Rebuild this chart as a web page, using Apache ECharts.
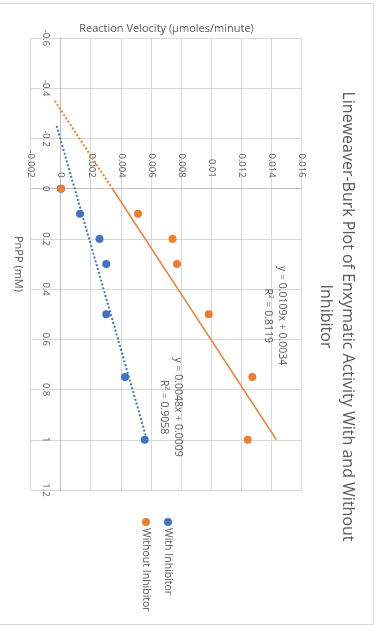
<!DOCTYPE html>
<html>
<head>
<meta charset="utf-8">
<title>Lineweaver-Burk Plot</title>
<script src="https://cdn.jsdelivr.net/npm/echarts@6/dist/echarts.min.js"></script>
<style>
html, body { margin: 0; padding: 0; overflow: hidden; background: #fff; }
/* the reference chart is turned a quarter turn clockwise */
#chart {
  position: absolute;
  left: 0;
  top: 0;
  width: 633px;
  height: 377px;
  transform-origin: 0 0;
  transform: translate(377px, 0) rotate(90deg);
}
</style>
</head>
<body>
<div id="chart"></div>
<script>
// PnPP concentration (mM) and measured reaction velocity
const pnpp = [0, 0.1, 0.2, 0.3, 0.5, 0.75, 1]
const withInhibitor = [0, 0.00125, 0.00255, 0.003, 0.003, 0.00425, 0.00555]
const withoutInhibitor = [0, 0.0051, 0.0074, 0.0077, 0.0098, 0.0127, 0.0124]

// trendline end points as drawn
const withTrendX = [-0.25, 1]
const withTrendY = [-0.0003, 0.0057]
const withoutForecastX = [-0.35, 0]
const withoutForecastY = [-0.00042, 0.0034]
const withoutTrendX = [0, 1]
const withoutTrendY = [0.0034, 0.0143]

const withLabel = 'y = 0.0048x + 0.0009\nR² = 0.9058'
const withoutLabel = 'y = 0.0109x + 0.0034\nR² = 0.8119'

const zip = (xs, ys) => xs.map((x, i) => [x, ys[i]])

const grey = '#595959'
const blue = '#4472C4'
const orange = '#ED7D31'

const grid = { left: 38, right: 143, top: 75, bottom: 31 }

const trendLabel = (text, coord) => ({
  symbol: 'circle',
  symbolSize: 0,
  silent: true,
  data: [{
    coord: coord,
    label: {
      show: true,
      position: 'inside',
      formatter: text,
      color: grey,
      fontSize: 10.5,
      lineHeight: 14,
      align: 'center'
    }
  }]
})

const chart = echarts.init(document.getElementById('chart'))

chart.setOption({
  animation: false,
  textStyle: { fontFamily: 'Open Sans' },
  graphic: [{
    type: 'rect',
    shape: { x: 3.5, y: 3.5, width: 621, height: 380 },
    style: { fill: 'none', stroke: '#d9d9d9', lineWidth: 1 }
  }],
  title: {
    text: 'Lineweaver-Burk Plot of Enxymatic Activity With and Without\nInhibitor',
    left: 'center',
    top: 13,
    textStyle: { fontSize: 16, fontWeight: 'normal', color: grey, lineHeight: 22 }
  },
  legend: {
    orient: 'vertical',
    left: 513,
    top: 198,
    itemWidth: 8,
    itemHeight: 8,
    itemGap: 10,
    icon: 'circle',
    data: ['With Inhibitor', 'Without Inhibitor'],
    textStyle: { color: grey, fontSize: 10.5, lineHeight: 12, padding: [0, 0, 0, -3] }
  },
  grid: Object.assign({ outerBoundsMode: 'none' }, grid),
  xAxis: {
    type: 'value',
    min: -0.6,
    max: 1.2,
    interval: 0.2,
    name: 'PnPP (mM)',
    nameLocation: 'middle',
    nameGap: 37,
    nameTextStyle: { color: grey, fontSize: 11 },
    axisLine: { onZero: false, lineStyle: { color: '#bfbfbf' } },
    axisTick: { show: false },
    axisLabel: { color: grey, fontSize: 9.5, margin: 10 },
    splitLine: { lineStyle: { color: '#d9d9d9' } }
  },
  yAxis: {
    type: 'value',
    min: -0.002,
    max: 0.016,
    interval: 0.002,
    name: 'Reaction Velocity (µmoles/minute)',
    nameLocation: 'middle',
    nameGap: 154,
    nameTextStyle: { color: grey, fontSize: 11 },
    axisLine: { onZero: false, lineStyle: { color: '#bfbfbf' } },
    axisTick: { show: false },
    axisLabel: { color: grey, fontSize: 9.5, margin: 11 },
    splitLine: { lineStyle: { color: '#d9d9d9' } }
  },
  series: [
    {
      name: 'With trend',
      type: 'line',
      data: zip(withTrendX, withTrendY),
      symbol: 'none',
      z: 1,
      lineStyle: { color: blue, width: 2, type: [2, 2] },
      markPoint: trendLabel(withLabel, [0.87, 0.00733])
    },
    {
      name: 'Without forecast',
      type: 'line',
      data: zip(withoutForecastX, withoutForecastY),
      symbol: 'none',
      z: 1,
      lineStyle: { color: orange, width: 2, type: [2, 2] }
    },
    {
      name: 'Without trend',
      type: 'line',
      data: zip(withoutTrendX, withoutTrendY),
      symbol: 'none',
      z: 1,
      lineStyle: { color: orange, width: 1.5 },
      markPoint: trendLabel(withoutLabel, [0.506, 0.01419])
    },
    {
      name: 'With Inhibitor',
      type: 'scatter',
      data: zip(pnpp, withInhibitor),
      symbolSize: 8,
      z: 3,
      itemStyle: { color: blue, opacity: 1 }
    },
    {
      name: 'Without Inhibitor',
      type: 'scatter',
      data: zip(pnpp, withoutInhibitor),
      symbolSize: 8,
      z: 4,
      itemStyle: { color: orange, opacity: 1 }
    }
  ]
})

// axes cross at zero, as in the spreadsheet chart: move each axis (line + labels) onto the zero line
const zero = chart.convertToPixel({ gridIndex: 0 }, [0, 0])
chart.setOption({
  xAxis: { offset: -((377 - grid.bottom) - zero[1]) },
  yAxis: { offset: -(zero[0] - grid.left) }
})
</script>
</body>
</html>
